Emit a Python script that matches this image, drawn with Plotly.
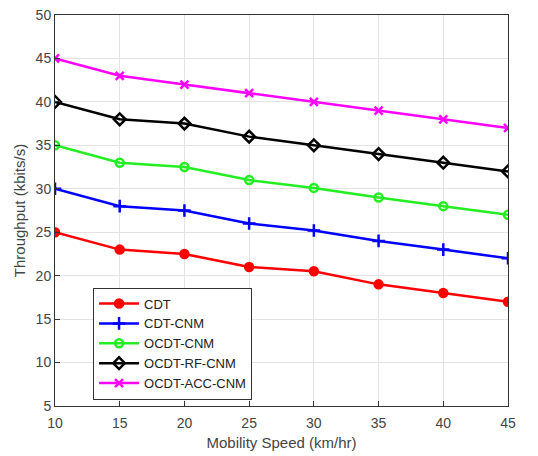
import plotly.graph_objects as go

speed = [10, 15, 20, 25, 30, 35, 40, 45]
cdt = [25, 23, 22.5, 21, 20.5, 19, 18, 17]
cdt_cnm = [30, 28, 27.5, 26, 25.2, 24, 23, 22]
ocdt_cnm = [35, 33, 32.5, 31, 30.1, 29, 28, 27]
ocdt_rf_cnm = [40, 38, 37.5, 36, 35, 34, 33, 32]
ocdt_acc_cnm = [45, 43, 42, 41, 40, 39, 38, 37]

series = [
    ("CDT", cdt, "#ff0000", "circle", 8),
    ("CDT-CNM", cdt_cnm, "#0000ff", "cross-thin-open", 9),
    ("OCDT-CNM", ocdt_cnm, "#22ee22", "circle-open", 8),
    ("OCDT-RF-CNM", ocdt_rf_cnm, "#000000", "diamond-open", 9),
    ("OCDT-ACC-CNM", ocdt_acc_cnm, "#ff00ff", "x-thin-open", 8),
]

fig = go.Figure()
for name, ys, col, sym, sz in series:
    fig.add_trace(go.Scatter(
        x=speed, y=ys, name=name, mode="lines+markers",
        line=dict(color=col, width=2.5),
        marker=dict(symbol=sym, size=sz, color=col, line=dict(color=col, width=2.5)),
    ))

axis_common = dict(
    showgrid=True, gridcolor="#e3e3e3", gridwidth=1,
    showline=True, linecolor="#333333", linewidth=1, mirror=True,
    ticks="inside", ticklen=5, tickcolor="#333333",
    tickfont=dict(family="Liberation Sans, Arial", size=14, color="#444444"),
    zeroline=False, automargin=False,
)

fig.update_layout(
    width=538, height=456,
    margin=dict(l=55, r=30, t=15, b=50),
    paper_bgcolor="white", plot_bgcolor="white",
    font=dict(family="Liberation Sans, Arial", size=13, color="#444444"),
    xaxis=dict(range=[10, 45], dtick=5, ticklabelstandoff=4,
               title=dict(text="Mobility Speed (km/hr)", standoff=7,
               font=dict(size=15, color="#444444")), **axis_common),
    yaxis=dict(range=[5, 50], dtick=5, title=dict(text="Throughput (kbits/s)", standoff=6,
               font=dict(size=15, color="#444444")), **axis_common),
    legend=dict(x=0.084, y=0.303, xanchor="left", yanchor="top",
                bgcolor="white", bordercolor="#333333", borderwidth=1,
                font=dict(size=13, color="#222222"), tracegroupgap=0, itemwidth=40),
    showlegend=True,
)

fig.write_html("out.html", config={"displayModeBar": False},
               post_script="document.body.style.margin='0';document.body.style.overflow='hidden';")
